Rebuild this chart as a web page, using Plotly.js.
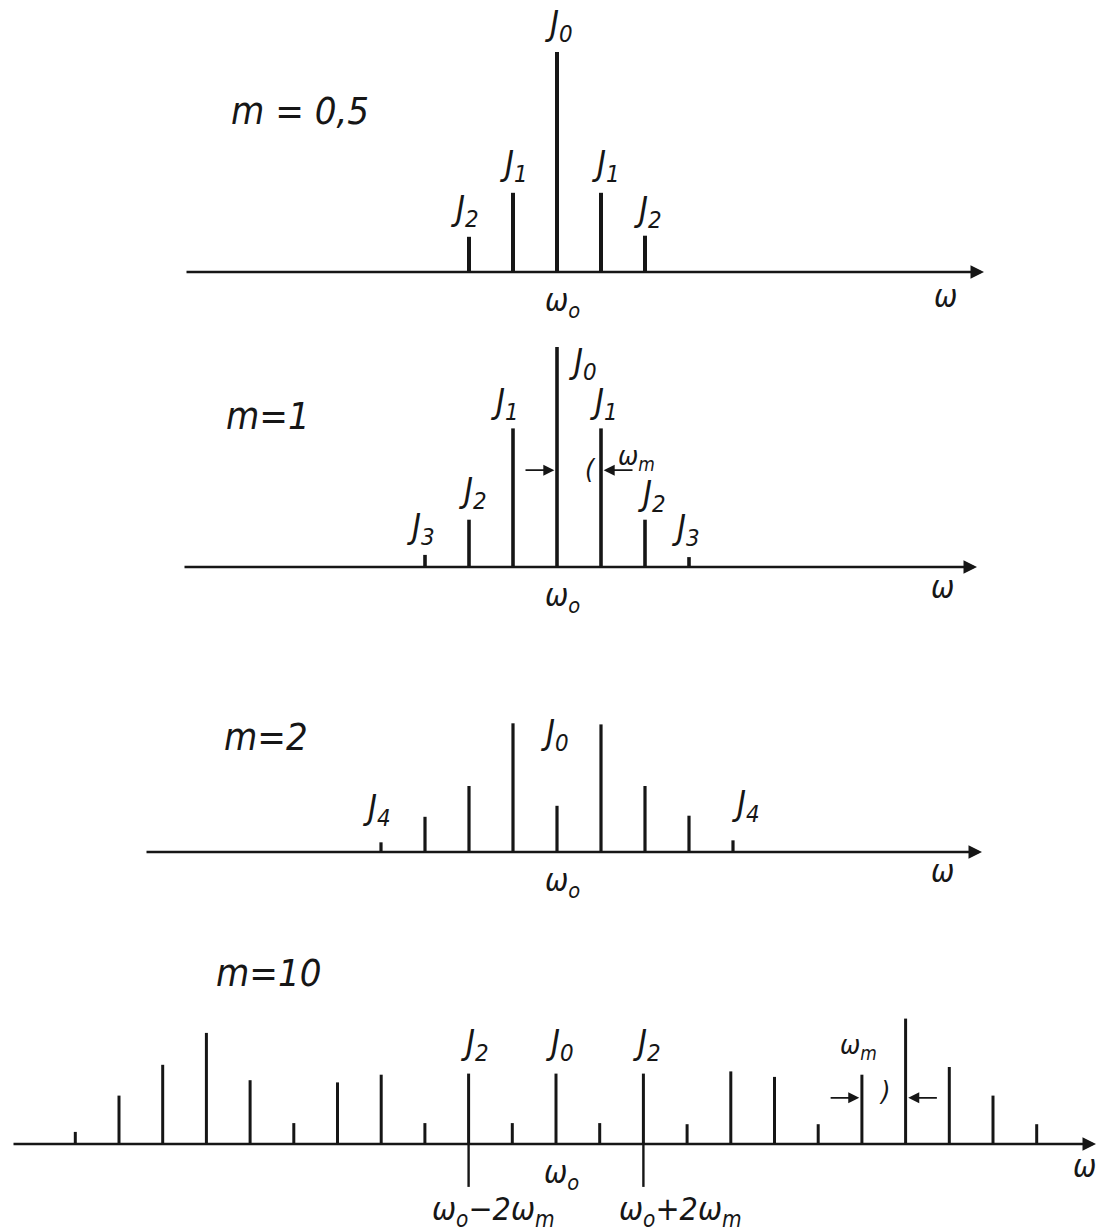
<!DOCTYPE html>
<html><head><meta charset="utf-8">
<script src="https://cdn.plot.ly/plotly-3.0.1.min.js"></script>
<style>html,body{margin:0;padding:0;background:#fff}#chart{width:1097px;height:1232px}</style>
</head><body><div id="chart"></div>
<script>
// ---------------- data ----------------
// relative line heights (tallest line of the figure = 1)
const panelTitles = ['m = 0,5', 'm=1', 'm=2', 'm=10'];

const orders1 = [-2, -1, 0, 1, 2];
const amp1    = [0.16, 0.36, 1.00, 0.36, 0.165];

const orders2 = [-3, -2, -1, 0, 1, 2, 3];
const amp2    = [0.055, 0.215, 0.63, 1.00, 0.63, 0.215, 0.045];

const orders3 = [-4, -3, -2, -1, 0, 1, 2, 3, 4];
const amp3    = [0.044, 0.16, 0.30, 0.585, 0.21, 0.58, 0.30, 0.165, 0.053];

const orders4 = [-11, -10, -9, -8, -7, -6, -5, -4, -3, -2, -1, 0, 1, 2, 3, 4, 5, 6, 7, 8, 9, 10, 11];
const amp4    = [0.055, 0.22, 0.36, 0.505, 0.29, 0.095, 0.28, 0.315, 0.095, 0.32, 0.095, 0.32,
                 0.095, 0.32, 0.09, 0.33, 0.305, 0.09, 0.315, 0.57, 0.35, 0.22, 0.09];
const guideOrders4 = [-2, 2];          // ω0 ± 2ωm marks reaching below the axis
const guideDepth4  = [-0.195, -0.195];

const lineLabels1 = {orders: [-2, -1, 0, 1, 2],           text: ['J2', 'J1', 'J0', 'J1', 'J2']};
const lineLabels2 = {orders: [-3, -2, -1, 0, 1, 2, 3],    text: ['J3', 'J2', 'J1', 'J0', 'J1', 'J2', 'J3']};
const lineLabels3 = {orders: [-4, 0, 4],                  text: ['J4', 'J0', 'J4']};
const lineLabels4 = {orders: [-2, 0, 2],                  text: ['J2', 'J0', 'J2']};
const centerLabel = 'ω<sub>o</sub>';
const axisLabel = 'ω';
const spacingLabel = 'ω<sub>m</sub>';
const sideLabels4 = {orders: [-2, 2], text: ['ω<sub>o</sub>−2ω<sub>m</sub>', 'ω<sub>o</sub>+2ω<sub>m</sub>']};

// ---------------- layout / style ----------------
const W = 1097, H = 1232;
const S = 220;       // px per unit of line height
const INK = '#161616';
const FONT = '"DejaVu Sans Condensed", "Liberation Sans Narrow", sans-serif';

const panels = [
  {axis: 272,  top: 0,   bot: 318,  px: 44,   cx: 557, span: [185, 984], barW: 4.0, title: [300, 111], wLab: [945, 296]},
  {axis: 567,  top: 318, bot: 640,  px: 44,   cx: 557, span: [183, 977], barW: 3.6, title: [268, 416], wLab: [942, 587]},
  {axis: 852,  top: 640, bot: 935,  px: 44,   cx: 557, span: [145, 982], barW: 3.2, title: [266, 737], wLab: [942, 871]},
  {axis: 1144, top: 935, bot: 1232, px: 43.7, cx: 556, span: [12, 1096], barW: 3.0, title: [268, 973], wLab: [1084, 1166]}
];
const labelStyle = [
  [{dx: -4, dy: 2}, {dx: 1, dy: 3}, {dx: 2, dy: 2}, {dx: 5, dy: 3}, {dx: 3, dy: 0}],
  [{dx: -4, dy: 2}, {dx: 4, dy: 3}, {dx: -8, dy: 0}, {dx: 10, dy: 8, xa: 'left', ya: 'top'},
   {dx: 3, dy: 0}, {dx: 7, dy: 0}, {dx: -3, dy: 3}],
  [{dx: -4, dy: 8}, {dx: -2, dy: 47}, {dx: 13, dy: 10}],
  [{dx: 6, dy: 5}, {dx: 4, dy: 5}, {dx: 4, dy: 5}]
];

const allOrders = [orders1, orders2, orders3, orders4];
const allAmps = [amp1, amp2, amp3, amp4];
const allLabels = [lineLabels1, lineLabels2, lineLabels3, lineLabels4];

const ax = i => (i === 0 ? '' : String(i + 1));
const fmtJ = s => '<i>' + s[0] + '<sub>' + s.slice(1) + '</sub></i>';

const data = [];
const annotations = [];
const layout = {
  width: W, height: H, margin: {l: 0, r: 0, t: 0, b: 0},
  paper_bgcolor: '#fff', plot_bgcolor: 'rgba(0,0,0,0)',
  showlegend: false, barmode: 'overlay', annotations
};

panels.forEach((p, i) => {
  const xa = 'x' + ax(i), ya = 'y' + ax(i);
  const xr = q => (q - p.cx) / p.px;
  layout['xaxis' + ax(i)] = {domain: [0, 1], range: [xr(0), xr(W)], visible: false, anchor: ya, fixedrange: true};
  layout['yaxis' + ax(i)] = {domain: [1 - p.bot / H, 1 - p.top / H],
    range: [-(p.bot - p.axis) / S, (p.axis - p.top) / S], visible: false, anchor: xa, fixedrange: true};

  data.push({type: 'bar', x: allOrders[i], y: allAmps[i], xaxis: xa, yaxis: ya,
    width: p.barW / p.px, marker: {color: INK, line: {width: 0}}, hoverinfo: 'skip'});

  // frequency axis with arrow
  annotations.push({xref: xa, yref: ya, x: xr(p.span[1]), y: 0, ax: xr(p.span[0]), ay: 0,
    axref: xa, ayref: ya, text: '', showarrow: true, arrowhead: 2, arrowsize: 1.0,
    arrowwidth: 2.7, arrowcolor: INK, standoff: 0});

  // panel title
  annotations.push({xref: 'paper', yref: 'paper', x: p.title[0] / W, y: 1 - p.title[1] / H,
    text: '<i>' + panelTitles[i] + '</i>', showarrow: false, xanchor: 'center', yanchor: 'middle',
    font: {family: FONT, size: 38, color: INK}});

  // ω at the end of the axis
  annotations.push({xref: 'paper', yref: 'paper', x: p.wLab[0] / W, y: 1 - p.wLab[1] / H,
    text: '<i>' + axisLabel + '</i>', showarrow: false, xanchor: 'center', yanchor: 'middle',
    font: {family: FONT, size: 31, color: INK}});

  // ω0 under the carrier
  annotations.push({xref: xa, yref: ya, x: 0, y: 0, xshift: 5, yshift: -8,
    text: '<i>' + centerLabel + '</i>', showarrow: false, xanchor: 'center', yanchor: 'top',
    font: {family: FONT, size: 31, color: INK}});

  // J labels
  const L = allLabels[i];
  L.orders.forEach((n, k) => {
    const st = labelStyle[i][k];
    const amp = allAmps[i][allOrders[i].indexOf(n)];
    annotations.push({xref: xa, yref: ya, x: n, y: amp, xshift: st.dx, yshift: st.dy,
      text: fmtJ(L.text[k]), showarrow: false, xanchor: st.xa || 'center', yanchor: st.ya || 'bottom',
      font: {family: FONT, size: 34, color: INK}});
  });
});

// ω0 ± 2ωm guide lines below the axis (panel 4)
data.push({type: 'bar', x: guideOrders4, y: guideDepth4, xaxis: 'x4', yaxis: 'y4',
  width: 2.4 / 43.7, marker: {color: INK, line: {width: 0}}, hoverinfo: 'skip'});
sideLabels4.orders.forEach((n, k) => {
  annotations.push({xref: 'x4', yref: 'y4', x: n, y: guideDepth4[k], xshift: k === 0 ? 25 : 37, yshift: -1,
    text: '<i>' + sideLabels4.text[k] + '</i>', showarrow: false, xanchor: 'center', yanchor: 'top',
    font: {family: FONT, size: 32, color: INK}});
});

// ωm spacing markers
function spacing(xa, ya, left, right, yv, labX, labY, hook, hookX, hookY) {
  annotations.push({xref: xa, yref: ya, x: left - 0.06, y: yv, ax: left - 0.75, ay: yv, axref: xa, ayref: ya,
    text: '', showarrow: true, arrowhead: 2, arrowsize: 1.3, arrowwidth: 1.7, arrowcolor: INK, standoff: 0});
  annotations.push({xref: xa, yref: ya, x: right + 0.06, y: yv, ax: right + 0.75, ay: yv, axref: xa, ayref: ya,
    text: '', showarrow: true, arrowhead: 2, arrowsize: 1.3, arrowwidth: 1.7, arrowcolor: INK, standoff: 0});
  annotations.push({xref: 'paper', yref: 'paper', x: labX / W, y: 1 - labY / H, text: '<i>' + spacingLabel + '</i>',
    showarrow: false, xanchor: 'center', yanchor: 'middle', font: {family: FONT, size: 27, color: INK}});
  annotations.push({xref: 'paper', yref: 'paper', x: hookX / W, y: 1 - hookY / H, text: hook,
    showarrow: false, xanchor: 'center', yanchor: 'middle', font: {family: FONT, size: 27, color: INK}});
}
spacing('x2', 'y2', 0, 1, 0.44, 636, 458, '<i>(</i>', 590, 468);
spacing('x4', 'y4', 7, 8, 0.21, 858, 1046, '<i>)</i>', 884, 1090);

Plotly.newPlot('chart', data, layout, {staticPlot: true, displayModeBar: false});
</script>
</body></html>
